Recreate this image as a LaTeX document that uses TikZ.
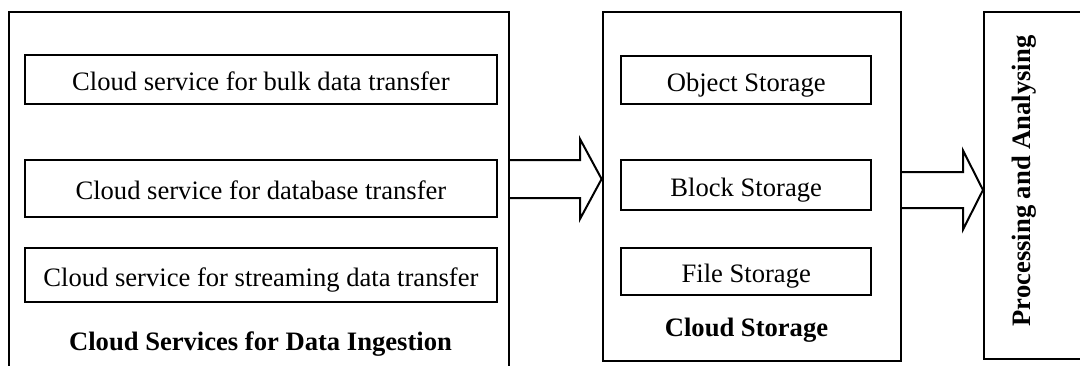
\documentclass[tikz,border=0pt]{standalone}
\usepackage{fontspec}
\setmainfont{Liberation Serif}
\newcommand{\boxFont}[0]{\fontsize{13.3}{16}\selectfont}

\begin{document}
\begin{tikzpicture}[x=1pt, y=1pt, line width=1pt]
  \tikzset{outer box/.style={draw, rectangle, inner sep=0pt},
           inner box/.style={draw, rectangle, inner sep=0pt, font=\boxFont,
                             text height=11pt, text depth=0pt},
           box title/.style={anchor=base, font=\boxFont\bfseries},
           block arrow/.style={draw, line join=miter}}
  \clip (0,0) rectangle (540,182.5);
  % data ingestion
  \node[outer box, minimum width=250pt, minimum height=196.5pt] (ingest) at (129.25,78.25) {};
  \node[inner box, minimum width=236.1pt, minimum height=24.5pt] (bulk) at (130.45,142.75) {Cloud service for bulk data transfer};
  \node[inner box, minimum width=236.1pt, minimum height=28.5pt] (database) at (130.45,88.25) {Cloud service for database transfer};
  \node[inner box, minimum width=236.1pt, minimum height=27pt] (streaming) at (130.45,45) {Cloud service for streaming data transfer};
  \node[box title] (ingestTitle) at (130.25,7.5) {Cloud Services for Data Ingestion};
  % cloud storage
  \node[outer box, minimum width=149.2pt, minimum height=174.3pt] (store) at (375.9,89.35) {};
  \node[inner box, minimum width=124.8pt, minimum height=24pt] (object) at (373.1,142.5) {Object Storage};
  \node[inner box, minimum width=124.8pt, minimum height=25pt] (block) at (373.1,90) {Block Storage};
  \node[inner box, minimum width=124.8pt, minimum height=23.7pt] (file) at (373.1,46.65) {File Storage};
  \node[box title] (storeTitle) at (373.25,14.1) {Cloud Storage};
  % processing
  \node[outer box, minimum width=73pt, minimum height=173.3pt] (process) at (528.5,89.85) {};
  \node[box title, rotate=90] (processTitle) at (515,92) {Processing and Analysing};
  % block arrows
  \draw[block arrow] (ingest.east |- 0,102.5) -- (290,102.5) -- (290,113) -- (store.west |- 0,93)
    -- (290,73) -- (290,83.5) -- (ingest.east |- 0,83.5);
  \draw[block arrow] (store.east |- 0,96.5) -- (481.5,96.5) -- (481.5,107.25) -- (process.west |- 0,87.5)
    -- (481.5,67.75) -- (481.5,78.5) -- (store.east |- 0,78.5);
\end{tikzpicture}
\end{document}
